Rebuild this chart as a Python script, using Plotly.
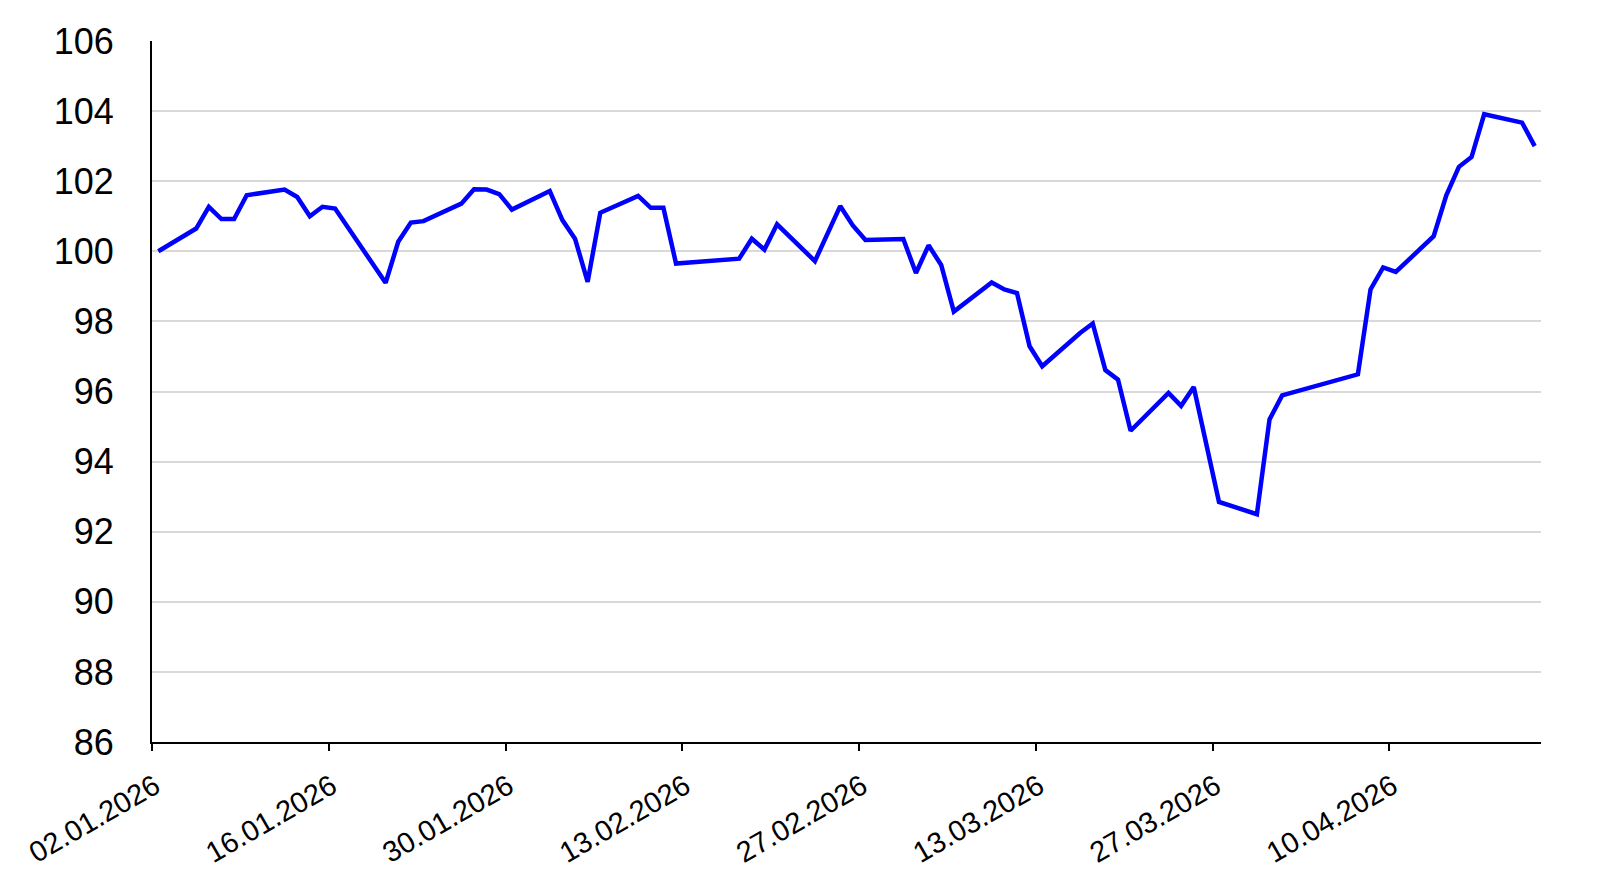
import pandas as pd
import plotly.graph_objects as go

dates = [
    "2026-01-02", "2026-01-05", "2026-01-06", "2026-01-07", "2026-01-08", "2026-01-09",
    "2026-01-12", "2026-01-13", "2026-01-14", "2026-01-15", "2026-01-16",
    "2026-01-20", "2026-01-21", "2026-01-22", "2026-01-23",
    "2026-01-26", "2026-01-27", "2026-01-28", "2026-01-29", "2026-01-30",
    "2026-02-02", "2026-02-03", "2026-02-04", "2026-02-05", "2026-02-06",
    "2026-02-09", "2026-02-10", "2026-02-11", "2026-02-12",
    "2026-02-17", "2026-02-18", "2026-02-19", "2026-02-20",
    "2026-02-23", "2026-02-25", "2026-02-26", "2026-02-27",
    "2026-03-02", "2026-03-03", "2026-03-04", "2026-03-05", "2026-03-06",
    "2026-03-09", "2026-03-10", "2026-03-11", "2026-03-12", "2026-03-13",
    "2026-03-16", "2026-03-17", "2026-03-18", "2026-03-19", "2026-03-20",
    "2026-03-23", "2026-03-24", "2026-03-25", "2026-03-27",
    "2026-03-30", "2026-03-31", "2026-04-01",
    "2026-04-07", "2026-04-08", "2026-04-09", "2026-04-10",
    "2026-04-13", "2026-04-14", "2026-04-15", "2026-04-16", "2026-04-17",
    "2026-04-20", "2026-04-21",
]

values = [
    100.00, 100.65, 101.27, 100.92, 100.92, 101.60,
    101.76, 101.55, 101.00, 101.27, 101.22,
    99.10, 100.27, 100.82, 100.86,
    101.36, 101.77, 101.76, 101.63, 101.19,
    101.72, 100.89, 100.36, 99.13, 101.10,
    101.58, 101.24, 101.24, 99.65,
    99.79, 100.36, 100.05, 100.77,
    99.72, 101.29, 100.74, 100.32,
    100.35, 99.38, 100.17, 99.61, 98.28,
    99.11, 98.91, 98.81, 97.29, 96.72,
    97.67, 97.94, 96.61, 96.34, 94.88,
    95.96, 95.59, 96.13, 92.85,
    92.50, 95.20, 95.89,
    96.49, 98.91, 99.54, 99.41,
    100.43, 101.60, 102.41, 102.69, 103.91,
    103.67, 103.00,
]

tick_dates = ["2026-01-02", "2026-01-16", "2026-01-30", "2026-02-13",
              "2026-02-27", "2026-03-13", "2026-03-27", "2026-04-10"]
tick_labels = ["02.01.2026", "16.01.2026", "30.01.2026", "13.02.2026",
               "27.02.2026", "13.03.2026", "27.03.2026", "10.04.2026"]

y_ticks = [86, 88, 90, 92, 94, 96, 98, 100, 102, 104, 106]

x = pd.to_datetime(dates) + pd.Timedelta(hours=12)

fig = go.Figure()
fig.add_trace(go.Scatter(
    x=x, y=values, mode="lines",
    line=dict(color="#0000ff", width=4.5),
    showlegend=False, hoverinfo="skip",
))

fig.update_layout(
    width=1592, height=880,
    margin=dict(l=144, r=59, t=33, b=146),
    paper_bgcolor="white", plot_bgcolor="white",
    font=dict(family="Liberation Sans, Arial, sans-serif", color="black"),
    xaxis=dict(
        type="date",
        range=["2026-01-02", "2026-04-22"],
        tickvals=pd.to_datetime(tick_dates), ticktext=tick_labels,
        tickangle=-30, tickfont=dict(size=29),
        ticks="outside", ticklen=7, tickwidth=1.5, tickcolor="black",
        showgrid=False, showline=True, linecolor="black", linewidth=2,
        zeroline=False, ticklabelstandoff=7, ticklabelshift=3,
    ),
    yaxis=dict(
        range=[86, 106], tickvals=y_ticks,
        tickfont=dict(size=36),
        showgrid=True, gridcolor="#d9d9d9", gridwidth=1.5,
        showline=True, linecolor="black", linewidth=2,
        zeroline=False, ticks="", ticklabelstandoff=29,
    ),
)

fig.write_html("out.html")
